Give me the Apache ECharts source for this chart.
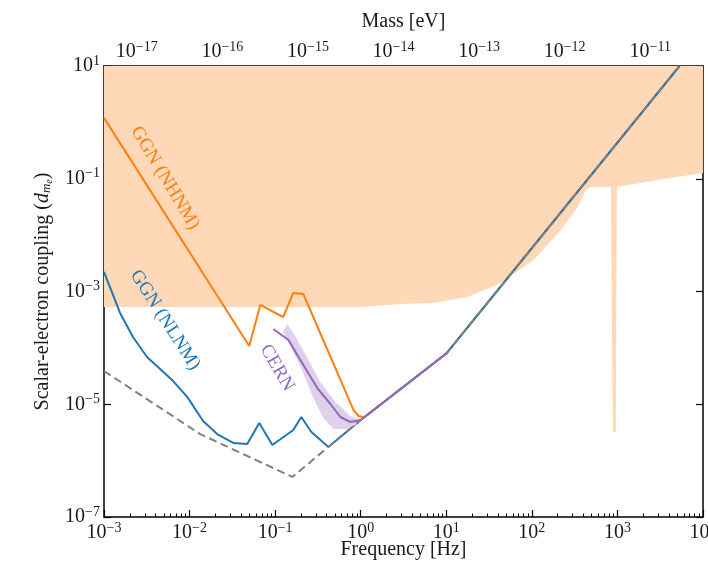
<!DOCTYPE html>
<html><head><meta charset="utf-8">
<script src="https://cdn.jsdelivr.net/npm/echarts@6/dist/echarts.min.js"></script>
<style>html,body{margin:0;padding:0;background:#fff}#c{width:708px;height:563px}</style>
</head><body><div id="c"></div>
<script>
// ---- tick values ----
const freqTicks = [1e-3, 1e-2, 1e-1, 1, 10, 100, 1000, 10000];
const massTicks = [1e-17, 1e-16, 1e-15, 1e-14, 1e-13, 1e-12, 1e-11];
const couplingTicks = [1e-7, 1e-5, 1e-3, 1e-1, 10];
const hPlanck_eVs = 4.135667e-15; // mass [eV] = h * f
// ---- data: [frequency Hz, coupling] ----
const excludedLower = [
  [1e-3, 5.31e-4], [1, 5.31e-4], [2.92, 6.00e-4], [7.10, 6.25e-4], [17.7, 7.98e-4],
  [43.2, 1.42e-3], [105, 3.62e-3], [218, 1.23e-2], [344, 3.16e-2], [427, 6.31e-2],
  [489, 7.14e-2], [838, 7.14e-2], [861, 7.14e-2], [883, 3.22e-6], [957, 3.22e-6],
  [984, 7.14e-2], [1012, 7.43e-2], [2970, 9.51e-2], [10000, 0.126]
];
const ggnNHNM = [
  [1e-3, 1.20], [4.98e-2, 1.08e-4], [6.70e-2, 5.77e-4], [0.124, 3.53e-4], [0.163, 9.40e-4],
  [0.213, 9.04e-4], [0.279, 3.53e-4], [0.822, 7.94e-6], [0.940, 6.19e-6], [1.10, 5.89e-6],
  [10, 7.94e-5], [5320, 10]
];
const ggnNLNM = [
  [1e-3, 2.22e-3], [1.54e-3, 4.16e-4], [2.18e-3, 1.56e-4], [3.18e-3, 6.89e-5], [6.43e-3, 2.58e-5],
  [9.38e-3, 1.35e-5], [1.44e-2, 5.05e-6], [2.10e-2, 2.96e-6], [3.24e-2, 2.06e-6], [4.72e-2, 1.97e-6],
  [6.52e-2, 4.65e-6], [9.27e-2, 1.89e-6], [0.163, 3.49e-6], [0.202, 5.94e-6], [0.265, 3.22e-6],
  [0.419, 1.75e-6], [1, 5.26e-6], [10, 7.94e-5], [5320, 10]
];
const cernLine = [
  [9.51e-2, 2.16e-4], [0.143, 1.38e-4], [0.197, 6.10e-5], [0.311, 1.94e-5], [0.442, 1.01e-5],
  [0.579, 5.94e-6], [0.759, 4.84e-6], [1, 5.26e-6], [10, 7.94e-5]
];
const cernBandUpper = [
  [0.124, 1.91e-4], [0.139, 2.65e-4], [0.172, 1.63e-4], [0.225, 7.78e-5], [0.337, 2.48e-5],
  [0.506, 1.10e-5], [0.759, 6.19e-6], [1, 5.26e-6]
];
const cernBandLower = [
  [0.124, 1.91e-4], [0.150, 1.08e-4], [0.197, 4.76e-5], [0.279, 1.29e-5], [0.366, 5.70e-6],
  [0.480, 3.64e-6], [0.698, 3.64e-6], [0.867, 4.29e-6], [1, 5.05e-6]
];
const sensitivityFloor = [
  [1e-3, 3.89e-5], [1.33e-2, 2.96e-6], [0.159, 5.13e-7], [0.419, 1.75e-6], [1, 5.26e-6],
  [10, 7.94e-5], [5320, 10]
];

const SERIF = 'Liberation Serif';
const TXT = '#1a1a1a';
function minorsOf(majors, lo, hi) {
  const out = [];
  const e0 = Math.floor(Math.log10(lo)), e1 = Math.ceil(Math.log10(hi));
  for (let e = e0; e <= e1; e++) for (let m = 2; m <= 9; m++) {
    const v = m * Math.pow(10, e);
    if (v >= lo && v <= hi) out.push(v);
  }
  return out;
}
function powLabel(v) {
  const e = Math.round(Math.log10(v));
  return '{b|10}{s|' + (e < 0 ? '\u2212' + (-e) : String(e)) + '}';
}
const labelRich = {
  b: { fontFamily: SERIF, fontSize: 20, color: TXT },
  s: { fontFamily: SERIF, fontSize: 14, color: TXT, padding: [0, 0, 10, 0] }
};
const nameStyle = { fontFamily: SERIF, fontSize: 20, color: TXT };
const massMin = 1e-3 * hPlanck_eVs, massMax = 1e4 * hPlanck_eVs;

const lineW = 1.5;
function majorAxisCommon(vals) {
  return {
    axisTick: { show: true, inside: true, length: 7, customValues: vals, lineStyle: { color: '#000', width: 1.2 } },
    splitLine: { show: false }, minorTick: { show: false }
  };
}
function minorAxis(pos, min, max, vals) {
  return {
    type: 'log', logBase: 10, position: pos, min: min, max: max,
    axisLine: { show: false },
    axisTick: { show: true, inside: true, length: 3.5, customValues: vals, lineStyle: { color: '#000', width: 1 } },
    axisLabel: { show: false }, splitLine: { show: false }
  };
}

const chart = echarts.init(document.getElementById('c'), null, { renderer: 'canvas' });
chart.setOption({
  animation: false,
  backgroundColor: '#fff',
  grid: { left: 104, right: 5, top: 66, bottom: 46, containLabel: false, outerBoundsMode: 'none' },
  xAxis: [
    Object.assign({
      type: 'log', logBase: 10, position: 'bottom', min: 1e-3, max: 1e4,
      axisLine: { show: true, onZero: false, lineStyle: { color: '#000', width: lineW } },
      axisLabel: { customValues: freqTicks, formatter: powLabel, rich: labelRich, margin: 4 },
      name: 'Frequency [Hz]', nameLocation: 'middle', nameGap: 23, nameMoveOverlap: false,
      nameTextStyle: nameStyle
    }, majorAxisCommon(freqTicks)),
    minorAxis('bottom', 1e-3, 1e4, minorsOf(freqTicks, 1e-3, 1e4)),
    Object.assign({
      type: 'log', logBase: 10, position: 'top', min: massMin, max: massMax,
      axisLine: { show: true, onZero: false, lineStyle: { color: '#000', width: lineW } },
      axisLabel: { customValues: massTicks, formatter: powLabel, rich: labelRich, margin: 2 },
      name: 'Mass [eV]', nameLocation: 'middle', nameGap: 34, nameTextStyle: nameStyle
    }, majorAxisCommon(massTicks)),
    minorAxis('top', massMin, massMax, minorsOf(massTicks, massMin, massMax))
  ],
  yAxis: [
    Object.assign({
      type: 'log', logBase: 10, position: 'left', min: 1e-7, max: 10,
      axisLine: { show: true, onZero: false, lineStyle: { color: '#000', width: lineW } },
      axisLabel: { customValues: couplingTicks, formatter: powLabel, rich: labelRich, margin: 4 },
      name: 'Scalar-electron coupling ({i|d}{sub|m}{sub2|e})', nameLocation: 'middle', nameGap: 50,
      nameRotate: 90,
      nameTextStyle: Object.assign({}, nameStyle, {
        rich: {
          i: { fontFamily: SERIF, fontSize: 20, fontStyle: 'italic', color: TXT },
          sub: { fontFamily: SERIF, fontSize: 13, fontStyle: 'italic', color: TXT, padding: [8, 0, 0, 0] },
          sub2: { fontFamily: SERIF, fontSize: 10, fontStyle: 'italic', color: TXT, padding: [12, 0, 0, 0] }
        }
      })
    }, majorAxisCommon(couplingTicks)),
    Object.assign({
      type: 'log', logBase: 10, position: 'right', min: 1e-7, max: 10,
      axisLine: { show: true, onZero: false, lineStyle: { color: '#000', width: lineW } },
      axisLabel: { show: false }
    }, majorAxisCommon(couplingTicks))
  ],
  series: [
    {
      name: 'excluded', type: 'line', data: excludedLower, symbol: 'none', silent: true,
      lineStyle: { width: 0 }, areaStyle: { color: '#ffd8b7', opacity: 1, origin: 'end' }, z: 1
    },
    {
      name: 'GGN (NHNM)', type: 'line', data: ggnNHNM, symbol: 'none',
      lineStyle: { color: '#ff7f0e', width: 2 }, z: 2
    },
    {
      name: 'GGN (NLNM)', type: 'line', data: ggnNLNM, symbol: 'none',
      lineStyle: { color: '#1f77b4', width: 2 }, z: 3
    },
    {
      name: 'CERN band', type: 'custom', z: 4, silent: true,
      data: cernBandUpper,
      renderItem: function (params, api) {
        if (params.dataIndex !== 0) return null;
        const pts = cernBandUpper.map(p => api.coord(p))
          .concat(cernBandLower.slice().reverse().map(p => api.coord(p)));
        return { type: 'polygon', shape: { points: pts }, style: { fill: '#dfd1eb', stroke: null } };
      }
    },
    {
      name: 'CERN', type: 'line', data: cernLine, symbol: 'none',
      lineStyle: { color: '#9467bd', width: 2 }, z: 6
    },
    {
      name: 'floor', type: 'line', data: sensitivityFloor, symbol: 'none',
      lineStyle: { color: '#808080', width: 2, type: [8, 4.5] }, z: 5
    }
  ],
  graphic: [
    { type: 'text', x: 165, y: 178, rotation: -59 * Math.PI / 180, z: 10,
      style: { text: 'GGN (NHNM)', fill: '#ff7f0e', fontFamily: SERIF, fontSize: 19, align: 'center', verticalAlign: 'middle' } },
    { type: 'text', x: 165, y: 320, rotation: -57.5 * Math.PI / 180, z: 10,
      style: { text: 'GGN (NLNM)', fill: '#1f77b4', fontFamily: SERIF, fontSize: 19, align: 'center', verticalAlign: 'middle' } },
    { type: 'text', x: 277, y: 368, rotation: -60 * Math.PI / 180, z: 10,
      style: { text: 'CERN', fill: '#9467bd', fontFamily: SERIF, fontSize: 19, align: 'center', verticalAlign: 'middle' } }
  ]
});
</script>
</body></html>
